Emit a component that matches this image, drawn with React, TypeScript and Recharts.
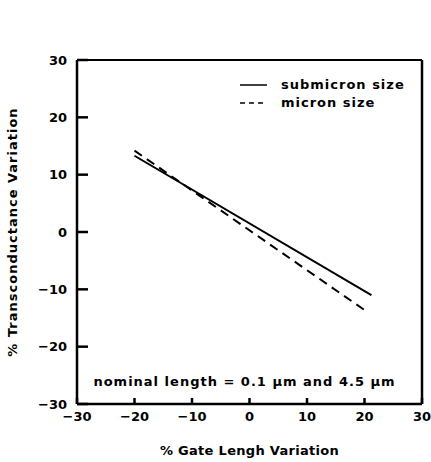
import React from 'react';
import { LineChart, Line, XAxis, YAxis, ReferenceLine } from 'recharts';

const xTicks = [-30, -20, -10, 0, 10, 20, 30];
const yTicks = [-30, -20, -10, 0, 10, 20, 30];
const submicron = [
  { x: -20, y: 13.3 },
  { x: 21.2, y: -11.0 },
];
const micron = [
  { x: -20, y: 14.2 },
  { x: 20.7, y: -14.1 },
];
const seriesNames = ['submicron size', 'micron size'];
const note = 'nominal length = 0.1 \u03bcm and 4.5 \u03bcm';
const xTitle = '% Gate Lengh Variation';
const yTitle = '% Transconductance Variation';

const FONT = '"DejaVu Sans", sans-serif';
const fmt = (v: number) => (v < 0 ? '\u2212' + Math.abs(v) : String(v));
const tickStyle = { fontFamily: FONT, fontWeight: 'bold', fontSize: 13, fill: '#000' };
const DOMAIN: [number, number] = [-30, 30];

export default function App() {
  return (
    <div style={{ position: 'absolute', left: 0, top: 0, width: 431, height: 462, background: '#fff' }}>
      <LineChart width={431} height={462} margin={{ top: 60, right: 9, bottom: 0, left: 0 }}>
        <XAxis
          type="number"
          dataKey="x"
          domain={DOMAIN}
          ticks={xTicks}
          interval={0}
          tickSize={-6}
          tickMargin={14}
          tickFormatter={fmt}
          tick={tickStyle}
          tickLine={{ stroke: '#000', strokeWidth: 2.5 }}
          height={58}
          axisLine={{ stroke: '#000', strokeWidth: 2.5 }}
          label={{ value: xTitle, position: 'insideBottom', offset: 7, fontFamily: FONT, fontWeight: 'bold', fontSize: 13, letterSpacing: 0.3, fill: '#000' }}
        />
        <YAxis
          type="number"
          dataKey="y"
          domain={DOMAIN}
          ticks={yTicks}
          interval={0}
          tickSize={-11}
          tickMargin={21}
          tickFormatter={fmt}
          tick={tickStyle}
          tickLine={{ stroke: '#000', strokeWidth: 2.5 }}
          width={77}
          axisLine={{ stroke: '#000', strokeWidth: 2.5 }}
          label={{ value: yTitle, angle: -90, position: 'insideLeft', offset: 12, style: { textAnchor: 'middle' }, fontFamily: FONT, fontWeight: 'bold', fontSize: 13, letterSpacing: 1, fill: '#000' }}
        />
        <ReferenceLine y={DOMAIN[1]} stroke="#000" strokeWidth={2} />
        <ReferenceLine x={DOMAIN[1]} stroke="#000" strokeWidth={2.5} />
        <ReferenceLine
          y={-26}
          stroke="none"
          label={{ value: note, position: 'center', dx: -5, fontFamily: FONT, fontWeight: 'bold', fontSize: 13, letterSpacing: 1, fill: '#000' }}
        />
        <Line data={submicron} dataKey="y" name={seriesNames[0]} stroke="#000" strokeWidth={2} dot={false} isAnimationActive={false} />
        <Line data={micron} dataKey="y" name={seriesNames[1]} stroke="#000" strokeWidth={2} strokeDasharray="9 6" dot={false} isAnimationActive={false} />
      </LineChart>
      <div
        style={{
          position: 'absolute',
          left: 240,
          top: 76,
          fontFamily: FONT,
          fontWeight: 'bold',
          fontSize: 13,
          letterSpacing: 1,
          color: '#000',
          lineHeight: '18px',
        }}
      >
        {seriesNames.map((n, i) => (
          <div key={n} style={{ display: 'flex', alignItems: 'center', height: 18 }}>
            <svg width={41} height={18} style={{ display: 'block' }}>
              <line
                x1={0}
                x2={27}
                y1={9}
                y2={9}
                stroke="#000"
                strokeWidth={1.5}
                strokeDasharray={i === 1 ? '5 4' : undefined}
              />
            </svg>
            <span>{n}</span>
          </div>
        ))}
      </div>
    </div>
  );
}
